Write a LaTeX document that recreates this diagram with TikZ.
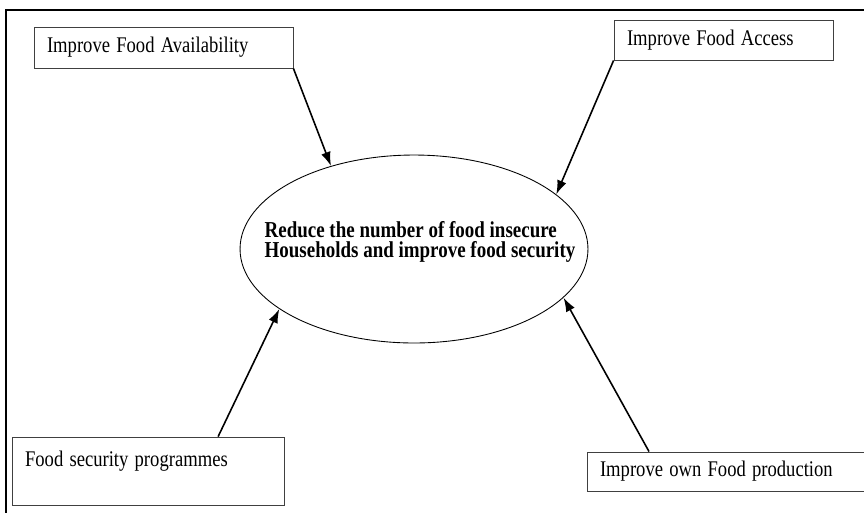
\documentclass[tikz,border=0pt]{standalone}
\usepackage{fontspec}
\setmainfont{Liberation Serif}
\usepackage{graphicx}
\usetikzlibrary{positioning,arrows.meta,calc,shapes.geometric}

\newcommand{\tallbox}[1]{\scalebox{1}[1.2]{#1}}

\begin{document}
\begin{tikzpicture}[x=0.02cm,y=-0.02cm, font=\fontsize{10.6}{11}\selectfont,
  aim/.style={draw=black!75,line width=0.5pt,minimum height=0.8cm,align=left,inner xsep=0.26cm},
  arr/.style={line width=0.9pt,-{Latex[length=8pt,width=5.5pt]}}]
\useasboundingbox (0,0) rectangle (864,512);
\draw[line width=1.1pt] (6,10) rectangle (880,530);
% the four outer boxes
\node[aim,minimum width=5.18cm,text width=4.66cm,minimum height=0.82cm] (avail) at (163.5,47.5) {\tallbox{Improve Food Availability}};
\node[aim,minimum width=4.38cm,text width=3.86cm] (access) at (723.5,40) {\tallbox{Improve Food Access}};
\node[aim,minimum width=5.44cm,text width=4.92cm,minimum height=1.36cm,text depth=0.5cm] (prog) at (148,471) {\tallbox{Food security programmes}};
\node[aim,minimum width=5.66cm,text width=5.14cm,minimum height=0.78cm] (own) at (728.5,471.5) {\tallbox{Improve own Food production}};
% the goal in the middle
\node[ellipse,draw,line width=0.5pt,minimum width=6.96cm,minimum height=3.76cm,inner sep=0pt] (goal) at (414,249) {};
\node[align=left,inner sep=0pt,font=\fontsize{10.8}{11.5}\selectfont\bfseries] (goaltext) at (420,242)
  {\tallbox{Reduce the number of food insecure}\\\tallbox{Households and improve food security}};
\coordinate (progtop) at ($(prog.north west)!0.757!(prog.north east)$);
\coordinate (owntop) at ($(own.north west)!0.22!(own.north east)$);
\draw[arr] (avail.south east) -- (goal.135);
\draw[arr] (access.south west) -- (goal.21);
\draw[arr] (progtop) -- (goal.204);
\draw[arr] (owntop) -- (goal.342);
\end{tikzpicture}
\end{document}
